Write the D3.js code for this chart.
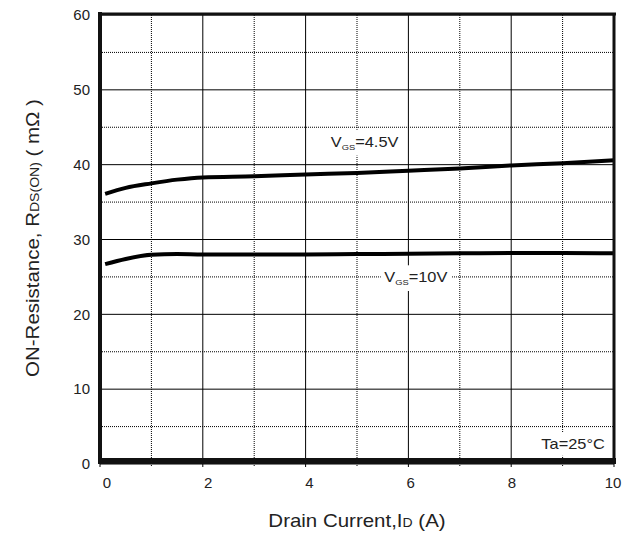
<!DOCTYPE html>
<html>
<meta charset="utf-8">
<style>
body { margin: 0; background: #fff; }
text { font-family: Arial, "Liberation Sans", sans-serif; fill: #222; }
</style>
<script src="https://d3js.org/d3.v7.min.js"></script>
<body>
<div id="chart"></div>
<script>
// values
var drainCurrent = [0.1, 0.5, 1, 1.5, 2, 3, 4, 5, 6, 7, 8, 9, 10];
var vgs45 = [36.1, 36.9, 37.5, 38.0, 38.3, 38.45, 38.7, 38.9, 39.2, 39.5, 39.9, 40.2, 40.6];
var vgs10 = [26.7, 27.4, 27.95, 28.05, 28.0, 28.0, 28.0, 28.05, 28.1, 28.15, 28.2, 28.2, 28.15];

var xTicks = [0, 2, 4, 6, 8, 10];
var xMinor = [1, 3, 5, 7, 9];
var yTicks = [0, 10, 20, 30, 40, 50, 60];
var yMinor = [5, 15, 25, 35, 45, 55];

var W = 624, H = 534;
var svg = d3.select("#chart").append("svg")
  .attr("width", W).attr("height", H);

var x = d3.scaleLinear().domain([0, 10]).range([100, 614]);
var y = d3.scaleLinear().domain([0, 60]).range([464, 15]);
// the tick numbers sit a little off the grid in the original
var xLab = d3.scaleLinear().domain([0, 10]).range([107, 613]);

// the original font is wider than Arial, so stretch text along its run
var STRETCH = 1.17;

// grid
var grid = svg.append("g");
grid.selectAll(".vmaj").data(xTicks).enter().append("line")
  .attr("x1", d => x(d)).attr("x2", d => x(d))
  .attr("y1", y(60)).attr("y2", 467)
  .attr("stroke", "#000").attr("stroke-width", 1);
grid.selectAll(".vmin").data(xMinor).enter().append("line")
  .attr("x1", d => x(d)).attr("x2", d => x(d))
  .attr("y1", y(60)).attr("y2", 467)
  .attr("stroke", "#000").attr("stroke-width", 1)
  .attr("stroke-dasharray", "1,1");
grid.selectAll(".hmaj").data(yTicks).enter().append("line")
  .attr("x1", x(0)).attr("x2", x(10))
  .attr("y1", d => y(d)).attr("y2", d => y(d))
  .attr("stroke", "#000").attr("stroke-width", 1);
grid.selectAll(".hmin").data(yMinor).enter().append("line")
  .attr("x1", x(0)).attr("x2", x(10))
  .attr("y1", d => y(d)).attr("y2", d => y(d))
  .attr("stroke", "#000").attr("stroke-width", 1)
  .attr("stroke-dasharray", "1,1");

// curves
var line = d3.line()
  .curve(d3.curveMonotoneX)
  .x(d => x(d[0]))
  .y(d => y(d[1]));

[vgs45, vgs10].forEach(function(s) {
  svg.append("path")
    .datum(drainCurrent.map((c, i) => [c, s[i]]))
    .attr("fill", "none")
    .attr("stroke", "#000")
    .attr("stroke-width", 4)
    .attr("d", line);
});

// text made of parts: [string, kind, size]
function wideText(g, parts, size, anchor) {
  var t = g.append("text")
    .attr("text-anchor", anchor || "start")
    .style("font-size", size + "px");
  parts.forEach(function(p) {
    var ts = t.append("tspan").text(p[0]);
    if (p[2]) ts.style("font-size", p[2] + "px");
    if (p[1] == "sub") ts.attr("dy", 3);
    if (p[1] == "back") ts.attr("dy", -3);
  });
  return t;
}

// labels with white boxes over the grid
function label(parts, px, py, anchor) {
  var g = svg.append("g")
    .attr("transform", "translate(" + px + "," + py + ") scale(" + STRETCH + ",1)");
  var t = wideText(g, parts, 14, anchor);
  var b = t.node().getBBox();
  g.insert("rect", "text")
    .attr("x", b.x - 3).attr("y", b.y - 4)
    .attr("width", b.width + 6).attr("height", b.height + 8)
    .attr("fill", "#fff");
}
label([["V"], ["GS", "sub", 8], ["=4.5V", "back"]], x(4.49), y(42.4));
label([["V"], ["GS", "sub", 8], ["=10V", "back"]], x(5.53), y(24.3));
label([["Ta=25°C"]], x(9.82), y(2.0), "end");

// frame
var f = svg.append("g").attr("stroke", "#111");
f.append("line").attr("x1", 98).attr("x2", 616).attr("y1", 14).attr("y2", 14).attr("stroke-width", 3);
f.append("line").attr("x1", 614).attr("x2", 614).attr("y1", 13).attr("y2", 464).attr("stroke-width", 3);
f.append("line").attr("x1", 98).attr("x2", 616).attr("y1", 461).attr("y2", 461).attr("stroke-width", 6);
f.append("line").attr("x1", 100).attr("x2", 100).attr("y1", 12).attr("y2", 464).attr("stroke-width", 4);

// tick numbers
svg.selectAll(".yt").data(yTicks).enter().append("text")
  .attr("x", 90).attr("y", d => y(d)).attr("dy", "0.35em")
  .attr("text-anchor", "end").style("font-size", "15px")
  .text(d => d);
svg.selectAll(".xt").data(xTicks).enter().append("text")
  .attr("x", d => xLab(d)).attr("y", 488)
  .attr("text-anchor", "middle").style("font-size", "15px")
  .text(d => d);

// axis titles
var gx = svg.append("g")
  .attr("transform", "translate(357,527) scale(" + STRETCH + ",1)");
wideText(gx, [["Drain Current,I"], ["D", "", 12], [" (A)"]], 17.5, "middle");

var gy = svg.append("g")
  .attr("transform", "translate(39,238) rotate(-90) scale(" + STRETCH + ",1)");
wideText(gy, [["ON-Resistance, R"], ["DS(ON)", "", 12], [" ( mΩ )"]], 17.5, "middle");
</script>
</body>
</html>
